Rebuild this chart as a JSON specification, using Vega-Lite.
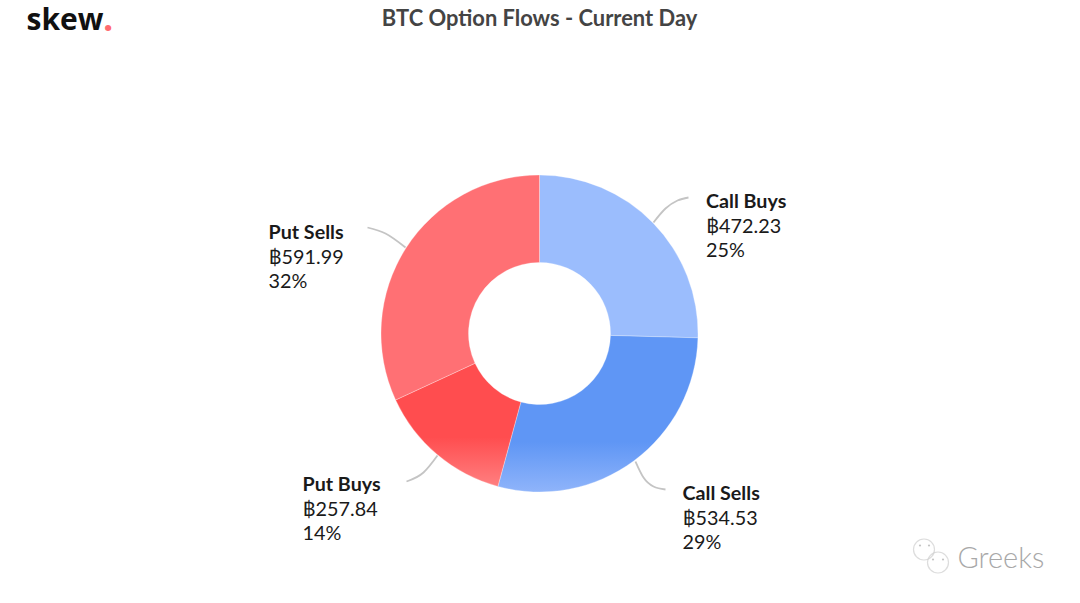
{
"$schema":"https://vega.github.io/schema/vega-lite/v6.json",
"autosize":{"type":"none"},
"padding":{"top":64,"left":0,"right":1,"bottom":0},
"width":1079,"height":539,
"background":"white",
"config":{"view":{"stroke":null},"text":{"font":"Lato"}},
"datasets":{
"flows":[
{"flow":"Call Buys","btc":472.23,"pct":"25%"},
{"flow":"Call Sells","btc":534.53,"pct":"29%"},
{"flow":"Put Buys","btc":257.84,"pct":"14%"},
{"flow":"Put Sells","btc":591.99,"pct":"32%"}],
"leaders":[
{"flow":"Call Buys","step":1,"ox":114,"oy":-111},{"flow":"Call Buys","step":2,"ox":126,"oy":-125},{"flow":"Call Buys","step":3,"ox":138,"oy":-133},{"flow":"Call Buys","step":4,"ox":149,"oy":-136},
{"flow":"Call Sells","step":1,"ox":96,"oy":128},{"flow":"Call Sells","step":2,"ox":104,"oy":144},{"flow":"Call Sells","step":3,"ox":114,"oy":153},{"flow":"Call Sells","step":4,"ox":126,"oy":156},
{"flow":"Put Buys","step":1,"ox":-102,"oy":122},{"flow":"Put Buys","step":2,"ox":-116,"oy":139},{"flow":"Put Buys","step":3,"ox":-133,"oy":148},
{"flow":"Put Sells","step":1,"ox":-134,"oy":-86},{"flow":"Put Sells","step":2,"ox":-154,"oy":-100},{"flow":"Put Sells","step":3,"ox":-172,"oy":-106}],
"icon":[{"ox":384.5,"oy":216},{"ox":398.5,"oy":229}],
"eyes":[{"ox":380.5,"oy":212},{"ox":389.5,"oy":212},{"ox":393.5,"oy":226},{"ox":403.5,"oy":226}]
},
"data":{"name":"flows"},
"transform":[
{"calculate":"'฿'+format(datum.btc,'.2f')+'\\n'+datum.pct","as":"detail"},
{"stack":"btc","sort":[{"field":"flow","order":"ascending"}],"groupby":[],"as":["a0","a1"]}],
"layer":[
{"transform":[{"filter":"datum.flow=='Call Buys'"}],"mark":{"type":"arc","outerRadius":158.5,"innerRadius":71,"stroke":"#ffffff","strokeWidth":0.3,"fill":"#9BBDFD"},
 "encoding":{"theta":{"field":"a0","type":"quantitative","stack":false,"scale":{"domain":[0,1856.59]}},"theta2":{"field":"a1"}}},
{"transform":[{"filter":"datum.flow=='Call Sells'"}],"mark":{"type":"arc","outerRadius":158.5,"innerRadius":71,"stroke":"#ffffff","strokeWidth":0.3,"fill":{"gradient":"linear","x1":0,"y1":0,"x2":0,"y2":1,"stops":[{"offset":0,"color":"#5F96F5"},{"offset":0.68,"color":"#5F96F5"},{"offset":1,"color":"#8FB4FA"}]}},
 "encoding":{"theta":{"field":"a0","type":"quantitative","stack":false,"scale":{"domain":[0,1856.59]}},"theta2":{"field":"a1"}}},
{"transform":[{"filter":"datum.flow=='Put Buys'"}],"mark":{"type":"arc","outerRadius":158.5,"innerRadius":71,"stroke":"#ffffff","strokeWidth":0.3,"fill":{"gradient":"linear","x1":0,"y1":0,"x2":0,"y2":1,"stops":[{"offset":0,"color":"#FF4D4F"},{"offset":0.6,"color":"#FF4D4F"},{"offset":1,"color":"#FF7F80"}]}},
 "encoding":{"theta":{"field":"a0","type":"quantitative","stack":false,"scale":{"domain":[0,1856.59]}},"theta2":{"field":"a1"}}},
{"transform":[{"filter":"datum.flow=='Put Sells'"}],"mark":{"type":"arc","outerRadius":158.5,"innerRadius":71,"stroke":"#ffffff","strokeWidth":0.3,"fill":"#FF7074"},
 "encoding":{"theta":{"field":"a0","type":"quantitative","stack":false,"scale":{"domain":[0,1856.59]}},"theta2":{"field":"a1"}}},
{"data":{"name":"leaders"},"mark":{"type":"line","interpolate":"monotone","stroke":"#c4c4c4","strokeWidth":1.8},
 "encoding":{
  "x":{"field":"ox","type":"quantitative","axis":null,"scale":{"domain":[-539.5,539.5],"nice":false,"zero":false}},
  "y":{"field":"oy","type":"quantitative","axis":null,"scale":{"domain":[-269.5,269.5],"reverse":true,"nice":false,"zero":false}},
  "detail":{"field":"flow"},
  "order":{"field":"step"}}},
{"data":{"name":"icon"},"mark":{"type":"point","filled":false,"stroke":"#cfcfcf","strokeWidth":1.2,"size":440,"shape":"circle"},
 "encoding":{
  "x":{"field":"ox","type":"quantitative","axis":null,"scale":{"domain":[-539.5,539.5],"nice":false,"zero":false}},
  "y":{"field":"oy","type":"quantitative","axis":null,"scale":{"domain":[-269.5,269.5],"reverse":true,"nice":false,"zero":false}}}},
{"data":{"name":"eyes"},"mark":{"type":"point","filled":true,"color":"#c4c4c4","opacity":1,"size":5,"shape":"circle"},
 "encoding":{
  "x":{"field":"ox","type":"quantitative","axis":null,"scale":{"domain":[-539.5,539.5],"nice":false,"zero":false}},
  "y":{"field":"oy","type":"quantitative","axis":null,"scale":{"domain":[-269.5,269.5],"reverse":true,"nice":false,"zero":false}}}},
{"transform":[{"filter":"datum.flow=='Call Buys'"}],"mark":{"type":"text","align":"left","baseline":"alphabetic","dx":166.5,"dy":-126,"fontSize":19.7,"fontWeight":"bold","color":"#1a1a1a"},"encoding":{"text":{"field":"flow"}}},
{"transform":[{"filter":"datum.flow=='Call Buys'"}],"mark":{"type":"text","align":"left","baseline":"alphabetic","dx":166.5,"dy":-101,"fontSize":19.8,"lineBreak":"\n","lineHeight":24.5,"color":"#1a1a1a"},"encoding":{"text":{"field":"detail"}}},
{"transform":[{"filter":"datum.flow=='Call Sells'"}],"mark":{"type":"text","align":"left","baseline":"alphabetic","dx":143,"dy":166,"fontSize":19.7,"fontWeight":"bold","color":"#1a1a1a"},"encoding":{"text":{"field":"flow"}}},
{"transform":[{"filter":"datum.flow=='Call Sells'"}],"mark":{"type":"text","align":"left","baseline":"alphabetic","dx":143,"dy":191,"fontSize":19.8,"lineBreak":"\n","lineHeight":24.5,"color":"#1a1a1a"},"encoding":{"text":{"field":"detail"}}},
{"transform":[{"filter":"datum.flow=='Put Buys'"}],"mark":{"type":"text","align":"left","baseline":"alphabetic","dx":-237,"dy":157,"fontSize":19.7,"fontWeight":"bold","color":"#1a1a1a"},"encoding":{"text":{"field":"flow"}}},
{"transform":[{"filter":"datum.flow=='Put Buys'"}],"mark":{"type":"text","align":"left","baseline":"alphabetic","dx":-237,"dy":182,"fontSize":19.8,"lineBreak":"\n","lineHeight":24.5,"color":"#1a1a1a"},"encoding":{"text":{"field":"detail"}}},
{"transform":[{"filter":"datum.flow=='Put Sells'"}],"mark":{"type":"text","align":"left","baseline":"alphabetic","dx":-271,"dy":-95,"fontSize":19.7,"fontWeight":"bold","color":"#1a1a1a"},"encoding":{"text":{"field":"flow"}}},
{"transform":[{"filter":"datum.flow=='Put Sells'"}],"mark":{"type":"text","align":"left","baseline":"alphabetic","dx":-271,"dy":-70,"fontSize":19.8,"lineBreak":"\n","lineHeight":24.5,"color":"#1a1a1a"},"encoding":{"text":{"field":"detail"}}},
{"data":{"values":[{"t":"BTC Option Flows - Current Day"}]},"mark":{"type":"text","align":"center","baseline":"alphabetic","dx":0,"dy":-308,"fontSize":21.9,"fontWeight":"bold","color":"#444444"},"encoding":{"text":{"field":"t"}}},
{"data":{"values":[{"t":"skew"}]},"mark":{"type":"text","align":"left","baseline":"alphabetic","dx":-513,"dy":-304,"fontSize":30,"fontWeight":"bold","font":"Open Sans","color":"#111111"},"encoding":{"text":{"field":"t"}}},
{"data":{"values":[{"t":"."}]},"mark":{"type":"text","align":"center","baseline":"alphabetic","dx":-431.5,"dy":-303,"fontSize":36,"fontWeight":"bold","font":"Open Sans","color":"#FF6B70"},"encoding":{"text":{"field":"t"}}},
{"data":{"values":[{"t":"Greeks"}]},"mark":{"type":"text","align":"left","baseline":"alphabetic","dx":418,"dy":234,"fontSize":29,"font":"Lato","fontWeight":300,"color":"#a8a8a8"},"encoding":{"text":{"field":"t"}}}
]
}
